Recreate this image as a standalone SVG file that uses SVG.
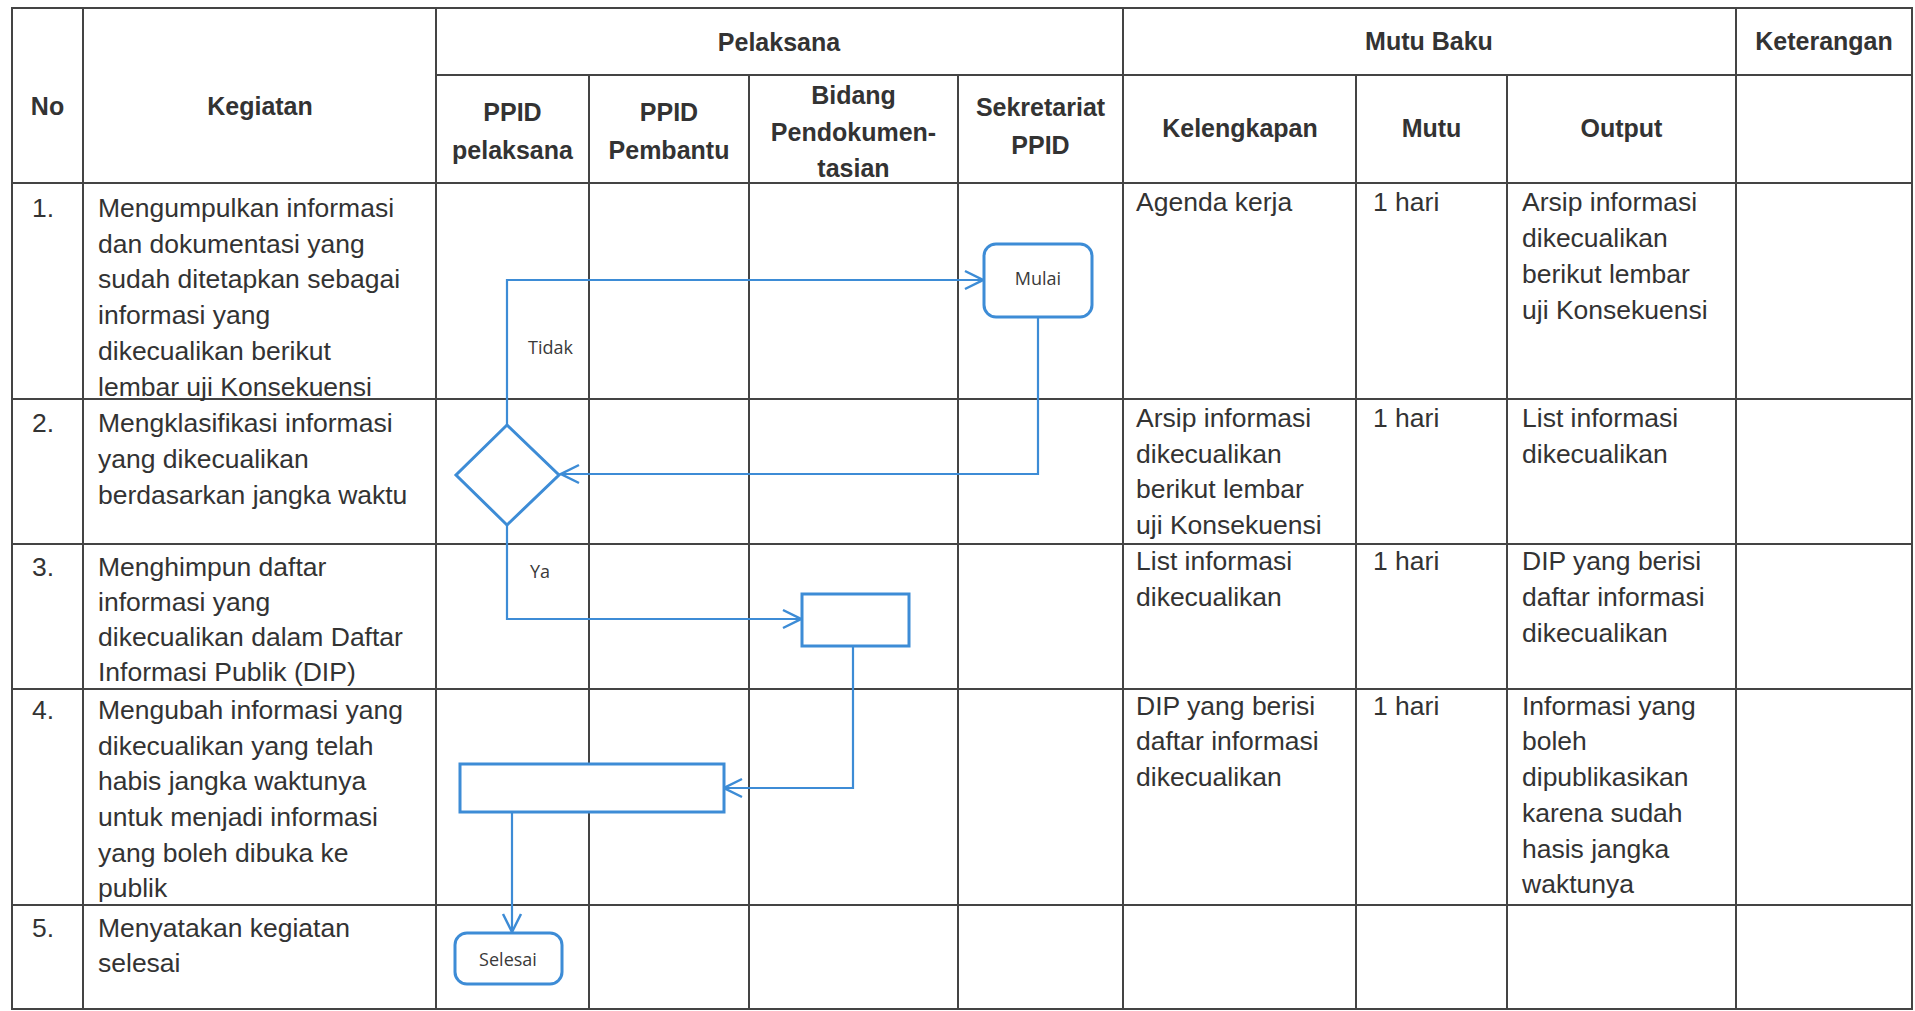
<svg xmlns="http://www.w3.org/2000/svg" width="1915" height="1011" viewBox="0 0 1915 1011">
<style>
.grid{stroke:#444;stroke-width:2;fill:none}
.hd{font-family:"Liberation Sans",Arial,sans-serif;font-weight:bold;font-size:25px;fill:#333;text-anchor:middle}
.tx{font-family:"Liberation Sans",Arial,sans-serif;font-size:26.5px;fill:#333}
.lb{font-family:"Open Sans","Liberation Sans",sans-serif;font-size:18px;fill:#3a3a3a}
.nd{fill:#fff;stroke:#3d8cd6;stroke-width:3}
.cn{fill:none;stroke:#3d8cd6;stroke-width:2.2}
</style>
<defs>
<marker id="arr" markerUnits="userSpaceOnUse" viewBox="0 0 22 22" refX="20" refY="11" markerWidth="22" markerHeight="22" orient="auto">
<path d="M2,2 L20,11 L2,20" fill="none" stroke="#3d8cd6" stroke-width="2.5"/>
</marker>
</defs>
<rect width="1915" height="1011" fill="#fff"/>
<g id="table">
<rect class="grid" x="12" y="8" width="1900" height="1001"/>
<path class="grid" d="M436,75 H1912 M12,183 H1912 M12,399 H1912 M12,544 H1912 M12,689 H1912 M12,905 H1912"/>
<path class="grid" d="M83,8 V1009 M436,8 V1009 M1123,8 V1009 M1736,8 V1009 M589,75 V1009 M749,75 V1009 M958,75 V1009 M1356,75 V1009 M1507,75 V1009"/>
</g>
<g id="header">
<text class="hd" x="47.5" y="115">No</text>
<text class="hd" x="260" y="115">Kegiatan</text>
<text class="hd" x="779" y="51">Pelaksana</text>
<text class="hd" x="1429" y="50">Mutu Baku</text>
<text class="hd" x="1824" y="50">Keterangan</text>
<text class="hd" x="512.5" y="121">PPID</text>
<text class="hd" x="512.5" y="159">pelaksana</text>
<text class="hd" x="669" y="121">PPID</text>
<text class="hd" x="669" y="159">Pembantu</text>
<text class="hd" x="853.5" y="104">Bidang</text>
<text class="hd" x="853.5" y="141">Pendokumen-</text>
<text class="hd" x="853.5" y="177">tasian</text>
<text class="hd" x="1040.5" y="116">Sekretariat</text>
<text class="hd" x="1040.5" y="154">PPID</text>
<text class="hd" x="1240" y="137">Kelengkapan</text>
<text class="hd" x="1431.5" y="137">Mutu</text>
<text class="hd" x="1621.5" y="137">Output</text>
</g>
<g id="row1">
<text class="tx" x="32" y="217">1.</text>
<text class="tx" x="98" y="217">Mengumpulkan informasi</text>
<text class="tx" x="98" y="253">dan dokumentasi yang</text>
<text class="tx" x="98" y="288">sudah ditetapkan sebagai</text>
<text class="tx" x="98" y="324">informasi yang</text>
<text class="tx" x="98" y="360">dikecualikan berikut</text>
<text class="tx" x="98" y="396">lembar uji Konsekuensi</text>
<text class="tx" x="1136" y="211">Agenda kerja</text>
<text class="tx" x="1373" y="211">1 hari</text>
<text class="tx" x="1522" y="211">Arsip informasi</text>
<text class="tx" x="1522" y="247">dikecualikan</text>
<text class="tx" x="1522" y="283">berikut lembar</text>
<text class="tx" x="1522" y="319">uji Konsekuensi</text>
</g>
<g id="row2">
<text class="tx" x="32" y="432">2.</text>
<text class="tx" x="98" y="432">Mengklasifikasi informasi</text>
<text class="tx" x="98" y="468">yang dikecualikan</text>
<text class="tx" x="98" y="504">berdasarkan jangka waktu</text>
<text class="tx" x="1136" y="427">Arsip informasi</text>
<text class="tx" x="1136" y="463">dikecualikan</text>
<text class="tx" x="1136" y="498">berikut lembar</text>
<text class="tx" x="1136" y="534">uji Konsekuensi</text>
<text class="tx" x="1373" y="427">1 hari</text>
<text class="tx" x="1522" y="427">List informasi</text>
<text class="tx" x="1522" y="463">dikecualikan</text>
</g>
<g id="row3">
<text class="tx" x="32" y="576">3.</text>
<text class="tx" x="98" y="576">Menghimpun daftar</text>
<text class="tx" x="98" y="611">informasi yang</text>
<text class="tx" x="98" y="646">dikecualikan dalam Daftar</text>
<text class="tx" x="98" y="681">Informasi Publik (DIP)</text>
<text class="tx" x="1136" y="570">List informasi</text>
<text class="tx" x="1136" y="606">dikecualikan</text>
<text class="tx" x="1373" y="570">1 hari</text>
<text class="tx" x="1522" y="570">DIP yang berisi</text>
<text class="tx" x="1522" y="606">daftar informasi</text>
<text class="tx" x="1522" y="642">dikecualikan</text>
</g>
<g id="row4">
<text class="tx" x="32" y="719">4.</text>
<text class="tx" x="98" y="719">Mengubah informasi yang</text>
<text class="tx" x="98" y="755">dikecualikan yang telah</text>
<text class="tx" x="98" y="790">habis jangka waktunya</text>
<text class="tx" x="98" y="826">untuk menjadi informasi</text>
<text class="tx" x="98" y="862">yang boleh dibuka ke</text>
<text class="tx" x="98" y="897">publik</text>
<text class="tx" x="1136" y="715">DIP yang berisi</text>
<text class="tx" x="1136" y="750">daftar informasi</text>
<text class="tx" x="1136" y="786">dikecualikan</text>
<text class="tx" x="1373" y="715">1 hari</text>
<text class="tx" x="1522" y="715">Informasi yang</text>
<text class="tx" x="1522" y="750">boleh</text>
<text class="tx" x="1522" y="786">dipublikasikan</text>
<text class="tx" x="1522" y="822">karena sudah</text>
<text class="tx" x="1522" y="858">hasis jangka</text>
<text class="tx" x="1522" y="893">waktunya</text>
</g>
<g id="row5">
<text class="tx" x="32" y="937">5.</text>
<text class="tx" x="98" y="937">Menyatakan kegiatan</text>
<text class="tx" x="98" y="972">selesai</text>
</g>
<g id="connectors">
<path class="cn" d="M507,425 V280 H983" marker-end="url(#arr)"/>
<path class="cn" d="M1038,317 V474 H561" marker-end="url(#arr)"/>
<path class="cn" d="M507,525 V619 H801" marker-end="url(#arr)"/>
<path class="cn" d="M853,646 V788 H724" marker-end="url(#arr)"/>
<path class="cn" d="M512,812 V932" marker-end="url(#arr)"/>
<text class="lb" x="528" y="354">Tidak</text>
<text class="lb" x="530" y="578">Ya</text>
</g>
<g id="node-mulai">
<rect class="nd" x="984" y="244" width="108" height="73" rx="12"/>
<text class="lb" x="1038" y="285" text-anchor="middle">Mulai</text>
</g>
<g id="node-decision">
<polygon class="nd" points="507,425 559,475 507,525 456,475"/>
</g>
<g id="node-proses1">
<rect class="nd" x="802" y="594" width="107" height="52"/>
</g>
<g id="node-proses2">
<rect class="nd" x="460" y="764" width="264" height="48"/>
</g>
<g id="node-selesai">
<rect class="nd" x="455" y="933" width="107" height="51" rx="12"/>
<text class="lb" x="508" y="966" text-anchor="middle">Selesai</text>
</g>
</svg>
